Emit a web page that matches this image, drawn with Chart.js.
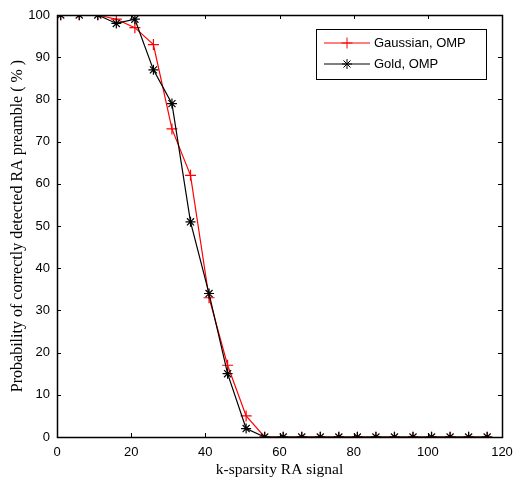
<!DOCTYPE html>
<html>
<head>
<meta charset="utf-8">
<script src="https://cdn.jsdelivr.net/npm/chart.js@4/dist/chart.umd.min.js"></script>
<style>
    html, body { margin: 0; padding: 0; background: #fff; }
    #grafico { display: block; }
</style>
</head>
<body>
<canvas id="grafico" width="513" height="479"></canvas>
<script>
// valores
const kSparsity = [1, 6, 11, 16, 21, 26, 31, 36, 41, 46, 51, 56, 61, 66, 71, 76, 81, 86, 91, 96, 101, 106, 111, 116];
const gaussianOmp = [100, 100, 100, 99, 97, 93, 73, 62, 33, 17, 5, 0, 0, 0, 0, 0, 0, 0, 0, 0, 0, 0, 0, 0];
const goldOmp = [100, 100, 100, 98, 99, 87, 79, 51, 34, 15, 2, 0, 0, 0, 0, 0, 0, 0, 0, 0, 0, 0, 0, 0];
const xTicks = [0, 20, 40, 60, 80, 100, 120];
const yTicks = [0, 10, 20, 30, 40, 50, 60, 70, 80, 90, 100];

const fonteNumeros = 'Liberation Sans, Arial, sans-serif';
const fonteTitulos = 'Liberation Serif, Times New Roman, serif';

function pontos(xs, ys) {
    return xs.map((x, i) => ({ x: x, y: ys[i] }));
}

// moldura + marcas de escala para dentro (estilo MATLAB)
const moldura = {
    id: 'moldura',
    afterDatasetsDraw(chart) {
        const ctx = chart.ctx;
        const a = chart.chartArea;
        const sx = chart.scales.x;
        const sy = chart.scales.y;
        ctx.save();
        ctx.strokeStyle = '#000';
        ctx.lineWidth = 1;
        ctx.beginPath();
        xTicks.forEach(v => {
            const px = Math.round(sx.getPixelForValue(v)) + 0.5;
            ctx.moveTo(px, a.bottom); ctx.lineTo(px, a.bottom - 4);
            ctx.moveTo(px, a.top); ctx.lineTo(px, a.top + 4);
        });
        yTicks.forEach(v => {
            const py = Math.round(sy.getPixelForValue(v)) + 0.5;
            ctx.moveTo(a.left, py); ctx.lineTo(a.left + 4, py);
            ctx.moveTo(a.right, py); ctx.lineTo(a.right - 4, py);
        });
        ctx.stroke();
        ctx.lineWidth = 1.5;
        ctx.strokeRect(Math.round(a.left) + 0.5, Math.round(a.top) + 0.5, Math.round(a.right - a.left), Math.round(a.bottom - a.top));
        ctx.restore();
    }
};

// legenda com linha + marcador
const legenda = {
    id: 'legenda',
    afterDraw(chart) {
        const ctx = chart.ctx;
        const x0 = 316, y0 = 29, w = 170, h = 50;
        ctx.save();
        ctx.fillStyle = '#fff';
        ctx.fillRect(x0, y0, w, h);
        ctx.strokeStyle = '#000';
        ctx.lineWidth = 1;
        ctx.strokeRect(x0 + 0.5, y0 + 0.5, w, h);
        const linhas = [14, 35];
        chart.data.datasets.forEach((ds, i) => {
            const y = y0 + linhas[i];
            ctx.strokeStyle = ds.borderColor;
            ctx.lineWidth = 1;
            ctx.beginPath();
            ctx.moveTo(324, y); ctx.lineTo(370, y);
            ctx.stroke();
            Chart.helpers.drawPoint(ctx, {
                pointStyle: ds.pointStyle,
                radius: ds.pointRadius,
                borderWidth: 1
            }, 347, y);
            ctx.fillStyle = '#000';
            ctx.font = '13px ' + fonteNumeros;
            ctx.textBaseline = 'middle';
            ctx.textAlign = 'left';
            ctx.fillText(ds.label, 374, y);
        });
        ctx.restore();
    }
};

new Chart(document.getElementById('grafico'), {
    type: 'line',
    data: {
        datasets: [{
            label: 'Gaussian, OMP',
            data: pontos(kSparsity, gaussianOmp),
            borderColor: '#ff0000',
            backgroundColor: '#ff0000',
            borderWidth: 1.2,
            pointStyle: 'cross',
            pointRadius: 5.5,
            pointBorderWidth: 1.2,
            pointHoverRadius: 5.5,
            tension: 0,
            order: 2
        }, {
            label: 'Gold, OMP',
            data: pontos(kSparsity, goldOmp),
            borderColor: '#000000',
            backgroundColor: '#000000',
            borderWidth: 1.2,
            pointStyle: 'star',
            pointRadius: 5,
            pointBorderWidth: 1.2,
            pointHoverRadius: 5,
            tension: 0,
            order: 1
        }]
    },
    options: {
        responsive: false,
        animation: false,
        layout: {
            padding: { left: 0, top: 15, right: 11, bottom: 0 }
        },
        plugins: {
            legend: { display: false },
            tooltip: { enabled: false }
        },
        scales: {
            x: {
                type: 'linear',
                min: 0,
                max: 120,
                afterFit: (s) => { s.height = 42; s.paddingRight = 0; s.paddingLeft = 0; },
                afterBuildTicks: (s) => { s.ticks = xTicks.map(v => ({ value: v })); },
                grid: { display: false, drawTicks: false },
                border: { display: false },
                ticks: {
                    color: '#000',
                    padding: 8,
                    maxRotation: 0,
                    font: { family: fonteNumeros, size: 13 }
                },
                title: {
                    display: true,
                    text: 'k-sparsity RA signal',
                    color: '#000',
                    padding: { top: 0, bottom: 0 },
                    font: { family: fonteTitulos, size: 15.5 }
                }
            },
            y: {
                type: 'linear',
                min: 0,
                max: 100,
                afterFit: (s) => { s.width = 57; },
                afterBuildTicks: (s) => { s.ticks = yTicks.map(v => ({ value: v })); },
                grid: { display: false, drawTicks: false },
                border: { display: false },
                ticks: {
                    color: '#000',
                    padding: 7,
                    font: { family: fonteNumeros, size: 13 }
                },
                title: {
                    display: true,
                    text: 'Probability of correctly detected RA preamble ( % )',
                    color: '#000',
                    padding: { top: 8, bottom: 0 },
                    font: { family: fonteTitulos, size: 16 }
                }
            }
        }
    },
    plugins: [moldura, legenda]
});
</script>
</body>
</html>
